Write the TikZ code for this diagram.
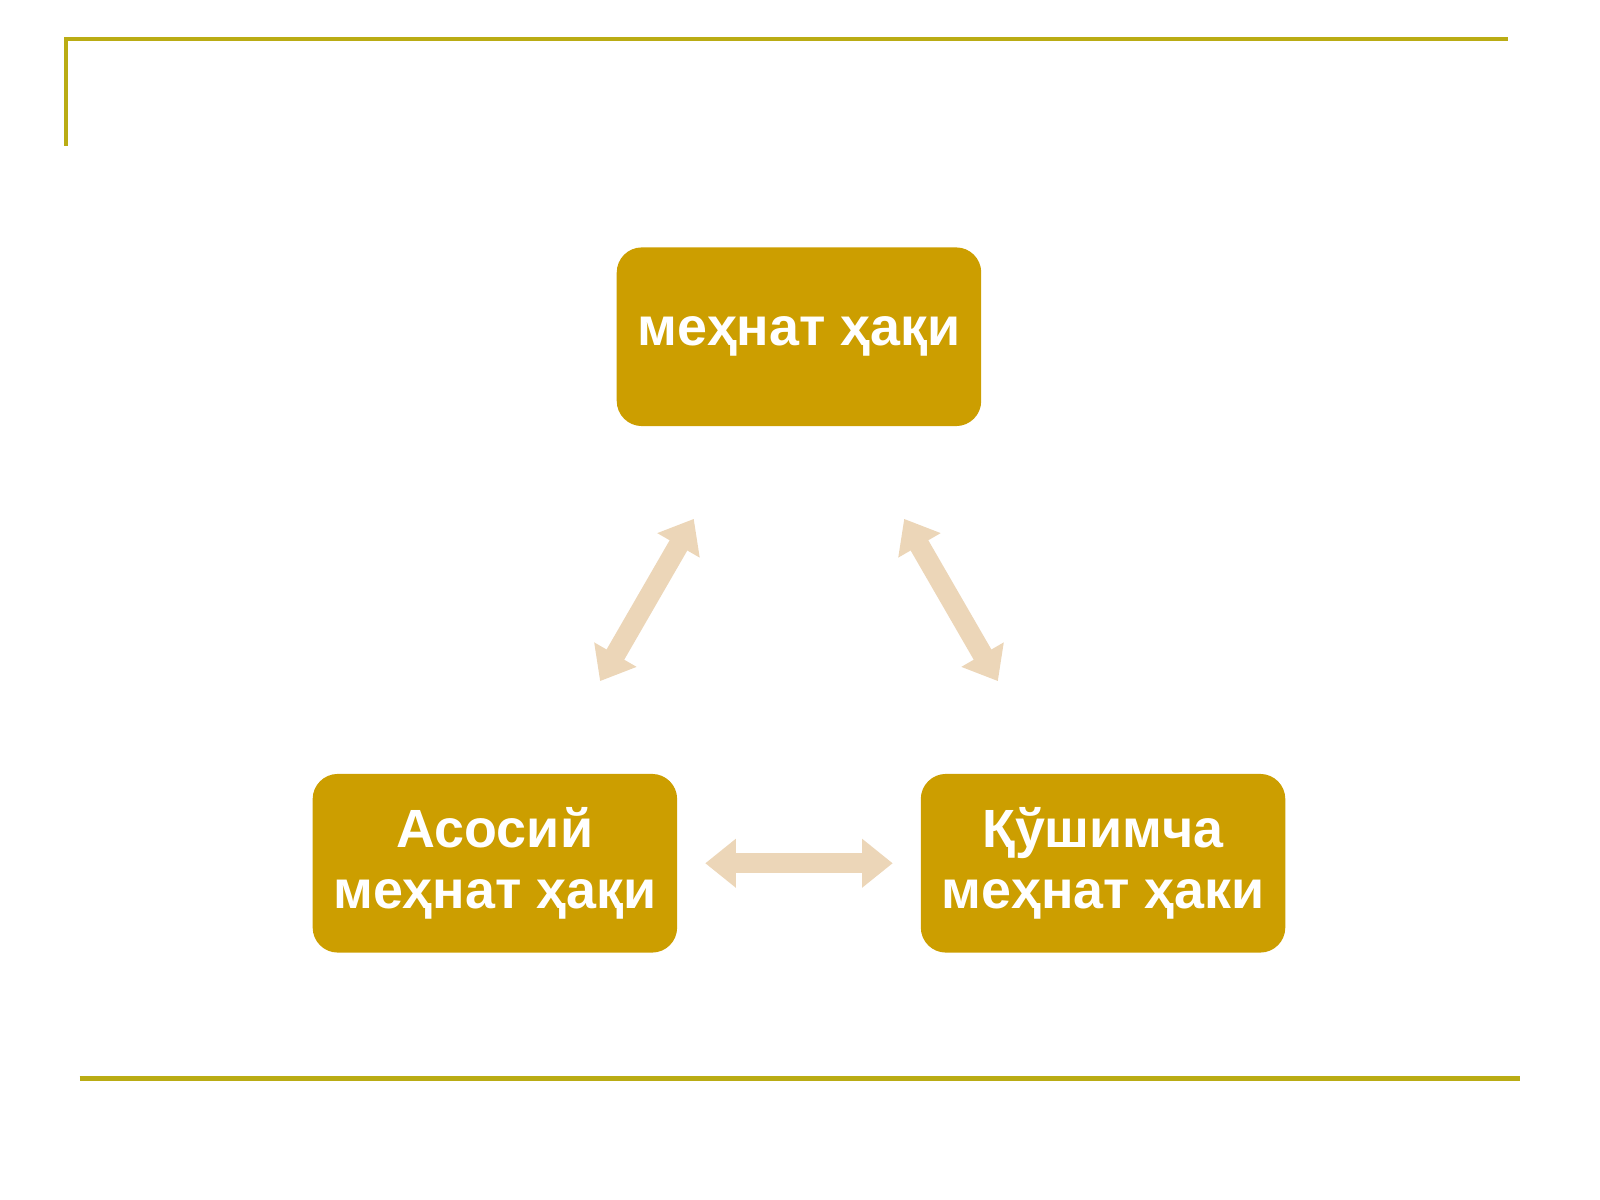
\documentclass[tikz,border=0pt]{standalone}
\usepackage{fontspec}
\setmainfont{Liberation Sans}
\usetikzlibrary{arrows.meta}
\definecolor{boxgold}{RGB}{204,158,0}
\definecolor{rulecol}{RGB}{186,172,20}
\definecolor{arrowcol}{RGB}{236,214,184}
\begin{document}
\begin{tikzpicture}[%
      x=0.01cm, y=-0.01cm,
      wagebox/.style={fill=boxgold, rounded corners=7pt, minimum width=3.57cm,
        minimum height=1.75cm, align=center, text=white,
        font=\fontsize{15}{17}\selectfont\bfseries},
      link/.style={draw=arrowcol, line width=0.2cm,
        {Triangle[width=0.46cm,length=0.3cm]}-{Triangle[width=0.46cm,length=0.3cm]},
        shorten <=2.06cm, shorten >=2.06cm},
      ]
      \useasboundingbox (0,0) rectangle (1568,1176);
      \draw [rulecol, line width=1.2pt] (65,143) -- (65,38) -- (1478,38);
      \draw [rulecol, line width=1.2pt] (78,1057) -- (1490,1057);

      \node [wagebox] (top) at (783,330) {меҳнат ҳақи};
      \node [wagebox] (left) at (485,846) {Асосий\\меҳнат ҳақи};
      \node [wagebox] (right) at (1081,846) {Қўшимча\\меҳнат ҳаки};

      \draw [link] (left.center) -- (top.center);
      \draw [link] (top.center) -- (right.center);
      \draw [link] (left.center) -- (right.center);
      \end{tikzpicture}
\end{document}
